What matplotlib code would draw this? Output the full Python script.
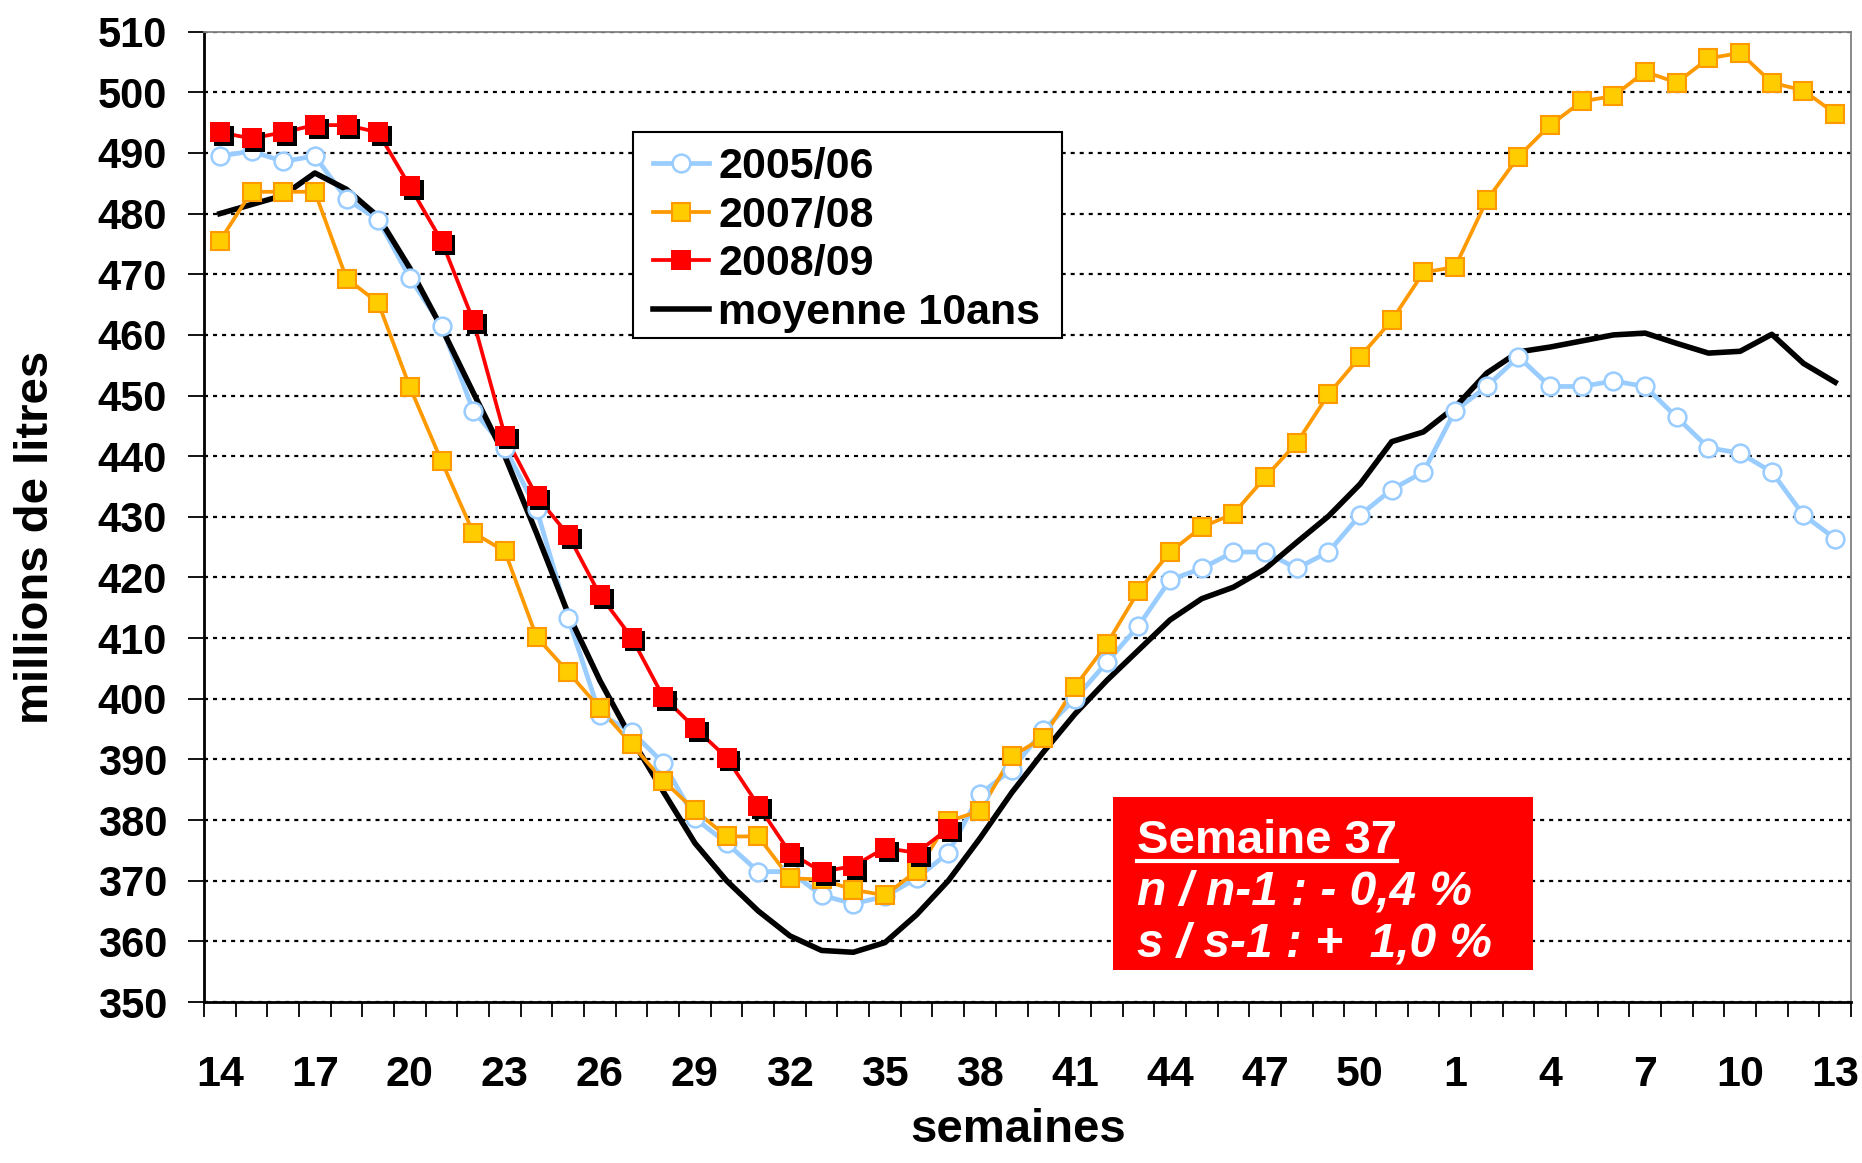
import matplotlib
matplotlib.use("Agg")
import matplotlib.pyplot as plt
from matplotlib.lines import Line2D
from matplotlib.patches import Rectangle
from matplotlib.transforms import offset_copy

plt.rcParams['lines.scale_dashes'] = False

# ---------------- data ----------------
weeks = list(range(14, 53)) + list(range(1, 14))

s2005 = [489.5, 490.3, 488.6, 489.5, 482.4, 479.0, 469.4, 461.5, 447.5, 441.4,
         431.3, 413.3, 397.4, 394.6, 389.4, 380.3, 376.2, 371.5, 371.5, 367.6,
         366.2, 367.4, 370.4, 374.6, 384.3, 388.3, 394.8, 400.0, 406.0, 412.0,
         419.6, 421.5, 424.2, 424.2, 421.5, 424.2, 430.3, 434.5, 437.4,
         447.5, 451.5, 456.4, 451.5, 451.5, 452.4, 451.5, 446.4, 441.4, 440.5,
         437.4, 430.3, 426.4]

s2007 = [475.5, 483.6, 483.6, 483.6, 469.3, 465.3, 451.4, 439.2, 427.4, 424.3,
         410.2, 404.4, 398.4, 392.5, 386.5, 381.6, 377.3, 377.3, 370.4, 370.2,
         368.5, 367.6, 371.6, 379.8, 381.5, 390.5, 393.6, 402.0, 409.0, 417.7,
         424.2, 428.3, 430.5, 436.5, 442.2, 450.2, 456.4, 462.4, 470.3,
         471.2, 482.2, 489.4, 494.6, 498.5, 499.4, 503.4, 501.6, 505.6, 506.5,
         501.6, 500.3, 496.5]

s2008 = [493.4, 492.4, 493.4, 494.6, 494.6, 493.4, 484.5, 475.5, 462.4, 443.4,
         433.4, 427.0, 417.1, 410.1, 400.3, 395.2, 390.3, 382.4, 374.6, 371.5,
         372.4, 375.4, 374.6, 378.6]

moyenne = [480.0, 481.5, 483.0, 486.7, 484.0, 479.5, 471.0, 461.2, 450.5, 440.0,
           427.3, 414.0, 403.0, 393.4, 384.7, 376.2, 370.0, 365.0, 360.9, 358.5,
           358.2, 359.8, 364.4, 370.0, 377.0, 384.5, 391.2, 397.5, 403.0, 408.0,
           413.0, 416.5, 418.4, 421.4, 425.8, 430.1, 435.4, 442.4, 444.0,
           448.1, 453.7, 457.2, 458.0, 459.0, 460.0, 460.3, 458.6, 457.0, 457.3,
           460.1, 455.3, 452.2]

series_labels = ["2005/06", "2007/08", "2008/09", "moyenne 10ans"]
box_lines = ["Semaine 37", "n / n-1 : - 0,4 %", "s / s-1 : +  1,0 %"]
y_ticks = list(range(350, 511, 10))

# ---------------- style ----------------
BLUE = '#99CCFF'
ORANGE = '#FF9900'
YELLOW = '#FFCC00'
RED = '#FF0000'
FONT = 'Liberation Sans'

W, H = 1862, 1163
fig = plt.figure(figsize=(W / 100, H / 100), dpi=100)
AX_L, AX_R, AX_T, AX_B = 204, 1851, 31.7, 1002
ax = fig.add_axes([AX_L / W, 1 - AX_B / H, (AX_R - AX_L) / W, (AX_B - AX_T) / H])

x_all = list(range(len(weeks)))
x08 = x_all[:len(s2008)]

LW_B, LW_K, LW_O, LW_R = 3.4, 4.0, 2.7, 2.7
MS_B, MS_O, MS_R = 12.8, 13.5, 15

# lines
ax.plot(x_all, s2005, color=BLUE, lw=LW_B, zorder=2, solid_joinstyle='round')
ax.plot(x_all, moyenne, color='black', lw=LW_K, zorder=3, solid_joinstyle='round')
ax.plot(x_all, s2007, color=ORANGE, lw=LW_O, zorder=4)
ax.plot(x08, s2008, color=RED, lw=LW_R, zorder=5)
# markers
ax.plot(x_all, s2005, ls='none', marker='o', ms=MS_B, mfc='white', mec=BLUE, mew=1.8, zorder=6)
ax.plot(x_all, s2007, ls='none', marker='s', ms=MS_O, mfc=YELLOW, mec=ORANGE, mew=1.5, zorder=7)
shadow_tr = offset_copy(ax.transData, fig=fig, x=2.8, y=-2.8, units='points')
ax.plot(x08, s2008, ls='none', marker='s', ms=MS_R, mfc='black', mec='black', mew=0,
        transform=shadow_tr, zorder=8)
ax.plot(x08, s2008, ls='none', marker='s', ms=MS_R, mfc=RED, mec=RED, mew=0, zorder=9)

# axes
ax.set_xlim(-0.5, len(weeks) - 0.5)
ax.set_ylim(350, 510)
ax.set_yticks(y_ticks)
ax.set_yticklabels([str(v) for v in y_ticks], fontfamily=FONT, fontweight='bold', fontsize=30)
ax.set_xticks(x_all[::3])
ax.set_xticklabels([str(weeks[i]) for i in x_all[::3]], fontfamily=FONT, fontweight='bold', fontsize=31)
ax.set_xticks([i - 0.5 for i in range(len(weeks) + 1)], minor=True)
ax.tick_params(axis='x', which='major', length=0, pad=38)
ax.tick_params(axis='x', which='minor', length=11, width=1.3, direction='out')
ax.tick_params(axis='y', which='major', length=11.5, width=1.3, direction='out', pad=15)

ax.yaxis.grid(True, color='black', linestyle=(0, (2.9, 3.6)), lw=1.6)
ax.set_axisbelow(True)
for sp in ['left', 'bottom']:
    ax.spines[sp].set_linewidth(2.0)
    ax.spines[sp].set_color('black')
for sp in ['top', 'right']:
    ax.spines[sp].set_linewidth(1.3)
    ax.spines[sp].set_color('#808080')

ax.set_ylabel("millions de litres", fontfamily=FONT, fontweight='bold', fontsize=34)
ax.yaxis.set_label_coords((58 - AX_L) / (AX_R - AX_L), (AX_B - 537) / (AX_B - AX_T))
ax.set_xlabel("semaines", fontfamily=FONT, fontweight='bold', fontsize=34)
ax.xaxis.set_label_coords((1018 - AX_L) / (AX_R - AX_L), -(1108 - AX_B) / (AX_B - AX_T))

# legend (proxy handles for styling)
handles = [
    Line2D([], [], color=BLUE, lw=LW_B, marker='o', ms=MS_B, mfc='white', mec=BLUE, mew=1.8),
    Line2D([], [], color=ORANGE, lw=LW_O, marker='s', ms=MS_O, mfc=YELLOW, mec=ORANGE, mew=1.5),
    Line2D([], [], color=RED, lw=LW_R, marker='s', ms=MS_R, mfc=RED, mec=RED, mew=0),
    Line2D([], [], color='black', lw=LW_K),
]
leg = fig.legend(handles, series_labels, loc='upper left',
                 bbox_to_anchor=(653 / W, 1 - 147 / H), frameon=False,
                 prop={'family': FONT, 'weight': 'bold', 'size': 31},
                 handlelength=1.3, handletextpad=0.22, labelspacing=0.2,
                 borderpad=0, borderaxespad=0)
fig.add_artist(Rectangle((633 / W, 1 - 338 / H), (1062 - 633) / W, (338 - 132) / H,
                         transform=fig.transFigure, fill=True, facecolor='white',
                         edgecolor='black', lw=1.5, zorder=1.5))
leg.set_zorder(3)

# annotation box
fig.add_artist(Rectangle((1113 / W, 1 - 970 / H), (1533 - 1113) / W, (970 - 797) / H,
                         transform=fig.transFigure, facecolor=RED, edgecolor='none', zorder=4))
t1 = fig.text(1137 / W, 1 - 853 / H, box_lines[0], color='white', fontfamily=FONT,
              fontweight='bold', fontsize=34, va='baseline', ha='left', zorder=5)
fig.text(1137 / W, 1 - 905 / H, box_lines[1], color='white', fontfamily=FONT,
         fontweight='bold', style='italic', fontsize=34.5, va='baseline', ha='left', zorder=5)
fig.text(1137 / W, 1 - 957 / H, box_lines[2], color='white', fontfamily=FONT,
         fontweight='bold', style='italic', fontsize=34.5, va='baseline', ha='left', zorder=5)
fig.canvas.draw()
bb = t1.get_window_extent()
fig.add_artist(Line2D([bb.x0 / W, bb.x1 / W], [1 - 861 / H, 1 - 861 / H],
                      transform=fig.transFigure, color='white', lw=3.0, zorder=5))

fig.savefig("out.png", dpi=100, facecolor='white')
